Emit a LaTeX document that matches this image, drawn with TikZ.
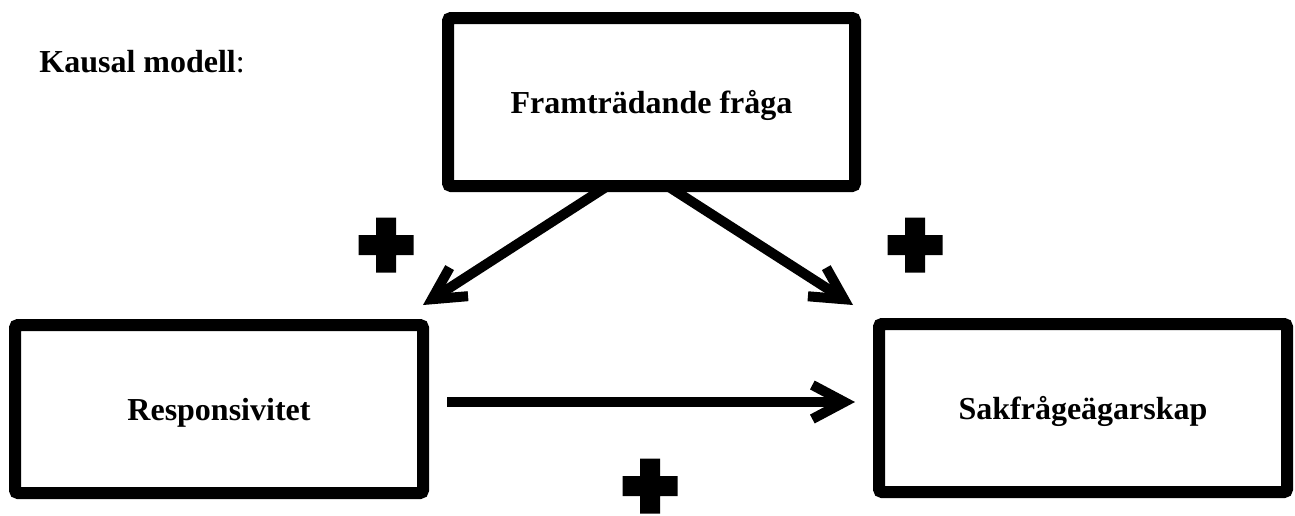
\documentclass[tikz,border=0pt]{standalone}
\usepackage{fontspec}
\setmainfont{Liberation Serif}
\usetikzlibrary{arrows.meta,calc}
\begin{document}
\begin{tikzpicture}[x=0.5pt,y=-0.5pt,
  box/.style={draw=black, fill=white, line width=6pt, rounded corners=1.5pt,
    minimum height=84pt, inner sep=0pt, font=\fontsize{16}{19}\selectfont\bfseries,
    text depth=0pt},
  arr/.style={line width=5pt, -{Straight Barb[length=16pt,width=17pt]}},
  plusmark/.style={fill=black}
]
\useasboundingbox (0,0) rectangle (1295,515);
% title
\node[anchor=base west, inner sep=0pt, font=\fontsize{16}{19}\selectfont] (title) at (39,72) {\textbf{Kausal modell}:};
% boxes
\node[box, minimum width=203.5pt] (top) at (651.5,102) {Framträdande fråga};
\node[box, minimum width=204pt] (left) at (219,409) {Responsivitet};
\node[box, minimum width=204pt] (right) at (1083,408) {Sakfrågeägarskap};
% arrow ends
\coordinate (sL) at ($(top.south)+(-44,-6)$);
\coordinate (sR) at ($(top.south)+(16,-6)$);
\coordinate (tL) at (423,305);
\coordinate (tR) at (853,305);
\coordinate (hS) at ($(left.east)+(18,-7)$);
\coordinate (hT) at ($(right.west)+(-18,-6)$);
\draw[arr] (sL) -- (tL);
\draw[arr] (sR) -- (tR);
\draw[arr] (hS) -- (hT);
% plus signs
\foreach \n/\cx/\cy in {pL/386/245, pR/915/245, pB/650/486}{
  \fill[plusmark] (\cx-10,\cy-27.5) -- (\cx+10,\cy-27.5) -- (\cx+10,\cy-10) -- (\cx+27.5,\cy-10)
     -- (\cx+27.5,\cy+10) -- (\cx+10,\cy+10) -- (\cx+10,\cy+27.5) -- (\cx-10,\cy+27.5)
     -- (\cx-10,\cy+10) -- (\cx-27.5,\cy+10) -- (\cx-27.5,\cy-10) -- (\cx-10,\cy-10) -- cycle;
}
\end{tikzpicture}
\end{document}
